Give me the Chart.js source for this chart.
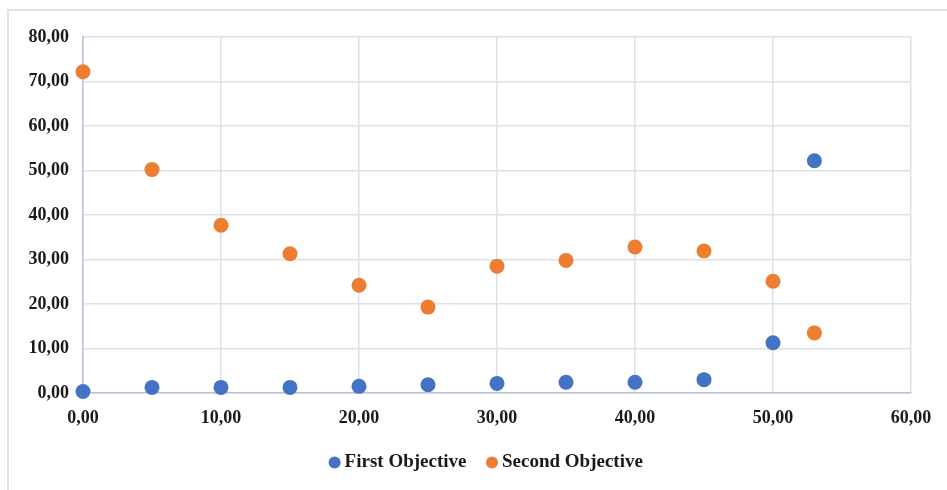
<!DOCTYPE html>
<html>
<head>
<meta charset="utf-8">
<script src="https://cdn.jsdelivr.net/npm/chart.js@4.4.1/dist/chart.umd.min.js"></script>
<style>
  html, body { margin: 0; padding: 0; background: #ffffff; }
  #wrap { position: relative; width: 947px; height: 490px; overflow: hidden; }
  #frame {
    position: absolute; left: 7px; top: 9px; width: 960px; height: 500px;
    border-left: 2px solid #dfe3ea; border-top: 2px solid #dfe3ea;
    box-sizing: border-box;
  }
  canvas { position: absolute; left: 0; top: 0; }
</style>
</head>
<body>
<div id="wrap">
  <div id="frame"></div>
  <canvas id="chart" width="947" height="490"></canvas>
</div>
<script>
// Iteration positions on the horizontal axis
const iterations = [0, 5, 10, 15, 20, 25, 30, 35, 40, 45, 50, 53];
// Objective values at each iteration
const firstObjective  = [0.35, 1.26, 1.26, 1.26, 1.5, 1.87, 2.16, 2.4, 2.4, 3.0, 11.3, 52.2];
const secondObjective = [72.2, 50.2, 37.7, 31.3, 24.2, 19.3, 28.5, 29.8, 32.8, 31.9, 25.1, 13.5];
const seriesNames = ['First Objective', 'Second Objective'];

const toPoints = ys => ys.map((y, i) => ({ x: iterations[i], y }));
const fmt = v => Number(v).toFixed(2).replace('.', ',');

const serif = '"Liberation Serif", "Times New Roman", serif';
const tickFont = { family: serif, size: 18, weight: 'bold' };
const legendFont = { family: serif, size: 19, weight: 'bold' };
const gridColor = '#dde1e8';
const axisColor = '#b8c3d6';

// Nudge the legend so it sits centred under the whole frame
const legendShift = {
  id: 'legendShift',
  afterLayout(chart) {
    const lg = chart.legend;
    if (lg) { lg.left += 33; lg.right += 33; }
  }
};

new Chart(document.getElementById('chart'), {
  type: 'scatter',
  data: {
    datasets: [
      {
        label: seriesNames[0],
        data: toPoints(firstObjective),
        backgroundColor: '#4472C4',
        borderColor: '#4472C4',
        pointRadius: 7.5,
        pointBorderWidth: 0,
        clip: false
      },
      {
        label: seriesNames[1],
        data: toPoints(secondObjective),
        backgroundColor: '#ED7D31',
        borderColor: '#ED7D31',
        pointRadius: 7.5,
        pointBorderWidth: 0,
        clip: false
      }
    ]
  },
  plugins: [legendShift],
  options: {
    responsive: false,
    animation: false,
    events: [],
    layout: { padding: { left: 0, right: 36, top: 37, bottom: 8 } },
    plugins: {
      tooltip: { enabled: false },
      legend: {
        position: 'bottom',
        labels: {
          usePointStyle: true,
          pointStyle: 'circle',
          boxWidth: 1,
          boxHeight: 8.5,
          padding: 25,
          color: '#1a1a1a',
          font: legendFont
        }
      }
    },
    scales: {
      x: {
        type: 'linear',
        min: 0, max: 60,
        afterFit: s => { s.height = 35; },
        ticks: { stepSize: 10, padding: 15, color: '#1a1a1a', font: tickFont, callback: fmt, maxRotation: 0 },
        grid: { color: gridColor, lineWidth: 1.5, drawTicks: false },
        border: { color: axisColor, width: 1.5 }
      },
      y: {
        min: 0, max: 80,
        afterFit: s => { s.width = 83; },
        ticks: { stepSize: 10, padding: 14, color: '#1a1a1a', font: tickFont, callback: fmt },
        grid: { color: gridColor, lineWidth: 1.5, drawTicks: false },
        border: { color: axisColor, width: 1.5 }
      }
    }
  }
});
</script>
</body>
</html>
